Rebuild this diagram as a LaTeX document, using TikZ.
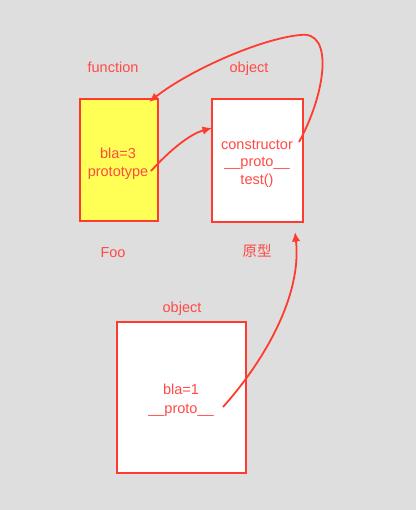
\documentclass[tikz,border=0pt]{standalone}
\usepackage{fontspec}
\setmainfont{Liberation Sans}
\newfontfamily\cjk{Noto Sans CJK SC}
\usetikzlibrary{arrows.meta}
\definecolor{bg}{HTML}{DEDEDE}
\definecolor{redline}{HTML}{FF3B30}
\definecolor{redtxt}{HTML}{FF4A45}
\definecolor{yel}{HTML}{FFFF55}
\begin{document}
\begin{tikzpicture}[x=1pt,y=-1pt,
  box/.style={draw=redline,line width=2pt,inner sep=0pt},
  boxtxt/.style={inner sep=0pt,align=center,text=redtxt,
    font=\fontsize{14.5}{17.5}\selectfont},
  lbl/.style={text=redtxt,font=\fontsize{14.5}{17}\selectfont,inner sep=0pt},
  conn/.style={draw=redline,line width=1.8pt,-{Latex[length=9.5pt,width=8.5pt]}}]
\fill[bg] (0,0) rectangle (416,510);
\node[box,fill=yel,minimum width=78pt,minimum height=122pt] (foo) at (119,160) {};
\node[box,fill=white,minimum width=91pt,minimum height=123pt] (proto) at (257.5,160.5) {};
\node[box,fill=white,minimum width=129pt,minimum height=151pt] (inst) at (181.5,397.5) {};
\node[boxtxt,font=\fontsize{14.5}{18}\selectfont] (footxt) at (118,164) {bla=3\\prototype};
\node[boxtxt] (prototxt) at (257,163.5) {constructor\\\_\_proto\_\_\\test()};
\node[boxtxt,font=\fontsize{14.5}{19}\selectfont] (insttxt) at (181,400.5) {bla=1\\\_\_proto\_\_};
\node[lbl] (lfun) at (113,67) {function};
\node[lbl] (lobj) at (249,68.5) {object};
\node[lbl] (lfoo) at (113,253) {Foo};
\node[lbl,font=\cjk\fontsize{14.5}{17}\selectfont] (lyx) at (257,251) {原型};
\node[lbl] (lobj2) at (182,308.5) {object};
\coordinate (s1) at (151,171);
\coordinate (e1) at (212,128);
\coordinate (s2) at (299,142);
\coordinate (m2) at (300,35);
\coordinate (e2) at (149,102);
\coordinate (s3) at (223,407);
\coordinate (e3) at (295,232);
\draw[conn] (s1) .. controls (170,150) and (190,134) .. (e1);
\draw[conn] (s2) .. controls (325,95) and (335,30) .. (m2) .. controls (260,39) and (190,70) .. (e2);
\draw[conn] (s3) .. controls (265,360) and (302,295) .. (e3);
\end{tikzpicture}
\end{document}
